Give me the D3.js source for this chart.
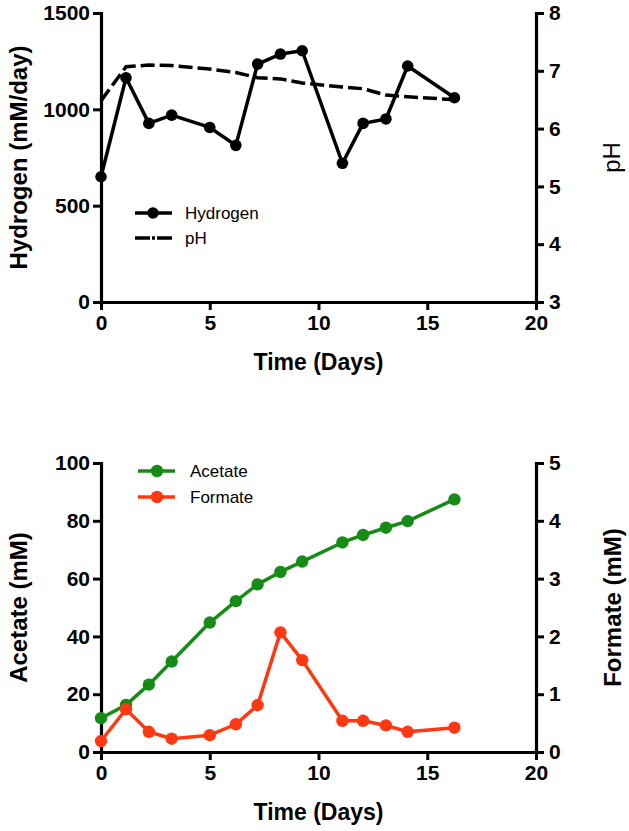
<!DOCTYPE html>
<html><head><meta charset="utf-8">
<script src="https://cdn.jsdelivr.net/npm/d3@7"></script>
<style>
html,body{margin:0;padding:0;background:#fff;}
text{font-family:"Liberation Sans",Arial,sans-serif;}
</style></head>
<body>
<svg id="chart" width="629" height="831"></svg>
<script>
// ---- data ----
const days = [0, 1.15, 2.2, 3.25, 5, 6.2, 7.2, 8.25, 9.25, 11.1, 12.05, 13.1, 14.1, 16.25];
const hydrogen = [650, 1164, 927, 970, 906, 813, 1235, 1287, 1304, 720, 927, 950, 1225, 1060];
const pH = [6.48, 7.07, 7.10, 7.09, 7.03, 6.97, 6.88, 6.86, 6.79, 6.72, 6.69, 6.58, 6.55, 6.50];
const acetate = [11.7, 16.3, 23.3, 31.3, 44.8, 52.2, 58.0, 62.3, 65.9, 72.5, 75.1, 77.6, 79.9, 87.4];
const formate = [0.19, 0.74, 0.35, 0.23, 0.29, 0.48, 0.81, 2.07, 1.59, 0.54, 0.54, 0.46, 0.35, 0.42];
const xTicks = [0, 5, 10, 15, 20];
const hydrogenTicks = [0, 500, 1000, 1500];
const pHTicks = [3, 4, 5, 6, 7, 8];
const acetateTicks = [0, 20, 40, 60, 80, 100];
const formateTicks = [0, 1, 2, 3, 4, 5];

const svg = d3.select("#chart");
const L = 101, R = 536;
const GREEN = "#168c16", RED = "#ff3814";
const fmt = d3.format("d");

function styleAxis(g) {
  g.select(".domain").attr("stroke", "#000").attr("stroke-width", 3.2).attr("stroke-linecap", "square");
  g.selectAll(".tick line").attr("stroke", "#000").attr("stroke-width", 3);
  g.selectAll(".tick text").attr("fill", "#000").style("font-size", "21px").style("font-weight", "bold")
    .style("font-family", '"Liberation Sans", Arial, sans-serif');
}

function panel(top, bottom, cfg) {
  const x = d3.scaleLinear().domain([0, 20]).range([L, R]);
  const yL = d3.scaleLinear().domain(cfg.leftDomain).range([bottom, top]);
  const yR = d3.scaleLinear().domain(cfg.rightDomain).range([bottom, top]);

  svg.append("g").attr("transform", `translate(0,${bottom})`)
    .call(d3.axisBottom(x).tickValues(xTicks).tickFormat(fmt).tickSize(8).tickSizeOuter(0).tickPadding(5))
    .call(styleAxis);
  svg.append("g").attr("transform", `translate(${L},0)`)
    .call(d3.axisLeft(yL).tickValues(cfg.leftTicks).tickFormat(fmt).tickSize(8).tickSizeOuter(0).tickPadding(3))
    .call(styleAxis);
  svg.append("g").attr("transform", `translate(${R},0)`)
    .call(d3.axisRight(yR).tickValues(cfg.rightTicks).tickFormat(fmt).tickSize(8).tickSizeOuter(0).tickPadding(5))
    .call(styleAxis);

  // titles
  svg.append("text").attr("x", (L + R) / 2).attr("y", bottom + 68).attr("text-anchor", "middle")
    .style("font-size", "23px").style("font-weight", "bold").text("Time (Days)");
  const cy = (top + bottom) / 2;
  svg.append("text").attr("transform", `translate(27,${cy}) rotate(-90)`).attr("text-anchor", "middle")
    .style("font-size", "24px").style("font-weight", "bold").text(cfg.leftTitle);
  svg.append("text").attr("transform", `translate(${cfg.rightTitleX},${cy}) rotate(-90)`).attr("text-anchor", "middle")
    .style("font-size", "24px").style("font-weight", cfg.rightTitleWeight).text(cfg.rightTitle);
  return { x, yL, yR };
}

// ---- top panel ----
const p1 = panel(13, 302, {
  leftDomain: [0, 1500], rightDomain: [3, 8], leftTicks: hydrogenTicks, rightTicks: pHTicks,
  leftTitle: "Hydrogen (mM/day)", rightTitle: "pH", rightTitleX: 620, rightTitleWeight: "normal"
});
const phLine = d3.line().x((d, i) => p1.x(days[i])).y(d => p1.yR(d));
svg.append("path").datum(pH).attr("d", phLine).attr("fill", "none").attr("stroke", "#000")
  .attr("stroke-width", 3.5).attr("stroke-dasharray", "14,5");
const hLine = d3.line().x((d, i) => p1.x(days[i])).y(d => p1.yL(d));
svg.append("path").datum(hydrogen).attr("d", hLine).attr("fill", "none").attr("stroke", "#000")
  .attr("stroke-width", 3.5).attr("stroke-linejoin", "round");
svg.append("g").selectAll("circle").data(hydrogen).join("circle")
  .attr("cx", (d, i) => p1.x(days[i])).attr("cy", d => p1.yL(d)).attr("r", 5.8).attr("fill", "#000");

// legend top
const lg1 = svg.append("g");
lg1.append("line").attr("x1", 135).attr("x2", 172).attr("y1", 213).attr("y2", 213).attr("stroke", "#000").attr("stroke-width", 3.5);
lg1.append("circle").attr("cx", 153).attr("cy", 213).attr("r", 5.8).attr("fill", "#000");
lg1.append("text").attr("x", 185).attr("y", 219).style("font-size", "17px").text("Hydrogen");
lg1.append("line").attr("x1", 135).attr("x2", 172).attr("y1", 238).attr("y2", 238).attr("stroke", "#000")
  .attr("stroke-width", 3.5).attr("stroke-dasharray", "15,2,3,2");
lg1.append("text").attr("x", 185).attr("y", 244).style("font-size", "17px").text("pH");

// ---- bottom panel ----
const p2 = panel(463, 752, {
  leftDomain: [0, 100], rightDomain: [0, 5], leftTicks: acetateTicks, rightTicks: formateTicks,
  leftTitle: "Acetate (mM)", rightTitle: "Formate (mM)", rightTitleX: 621, rightTitleWeight: "bold"
});
function series(vals, scale, color) {
  const ln = d3.line().x((d, i) => p2.x(days[i])).y(d => scale(d));
  svg.append("path").datum(vals).attr("d", ln).attr("fill", "none").attr("stroke", color)
    .attr("stroke-width", 3.5).attr("stroke-linejoin", "round");
  svg.append("g").selectAll("circle").data(vals).join("circle")
    .attr("cx", (d, i) => p2.x(days[i])).attr("cy", d => scale(d)).attr("r", 6.2).attr("fill", color);
}
series(acetate, p2.yL, GREEN);
series(formate, p2.yR, RED);

const lg2 = svg.append("g");
[["Acetate", GREEN, 471], ["Formate", RED, 497]].forEach(([name, c, y]) => {
  lg2.append("line").attr("x1", 138).attr("x2", 175).attr("y1", y).attr("y2", y).attr("stroke", c).attr("stroke-width", 3.5);
  lg2.append("circle").attr("cx", 157).attr("cy", y).attr("r", 6.2).attr("fill", c);
  lg2.append("text").attr("x", 190).attr("y", y + 6).style("font-size", "17px").text(name);
});
</script>
</body></html>
